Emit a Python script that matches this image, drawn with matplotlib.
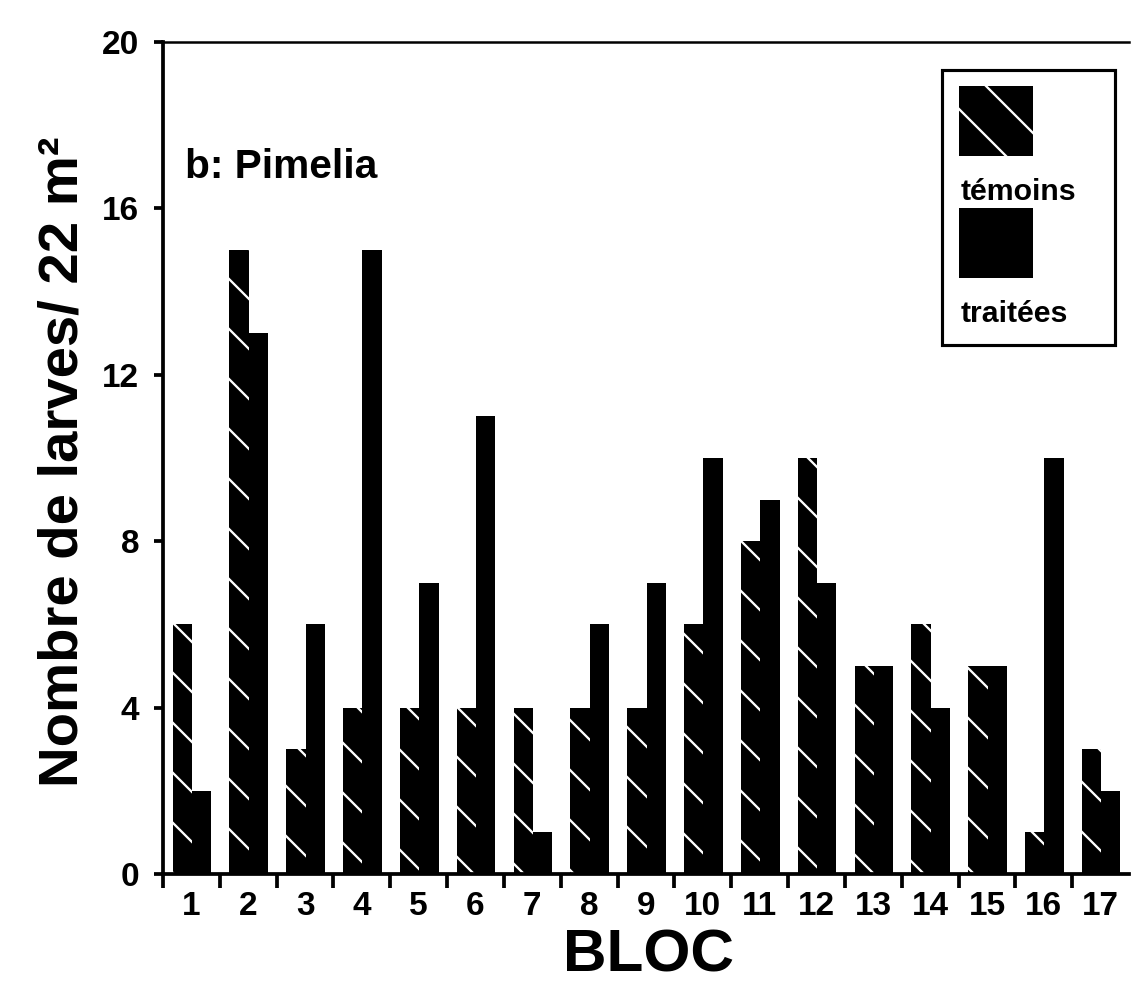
from __future__ import annotations

import numpy as np

import matplotlib

matplotlib.use("Agg")
import matplotlib.pyplot as plt
from matplotlib.patches import Rectangle

# values (larvae per 22 m2, per block)
BLOCS = list(range(1, 18))
TEMOINS = [6, 15, 3, 4, 4, 4, 4, 4, 4, 6, 8, 10, 5, 6, 5, 1, 3]
TRAITEES = [2, 13, 6, 15, 7, 11, 1, 6, 7, 10, 9, 7, 5, 4, 5, 10, 2]
SERIES = ["témoins", "traitées"]
Y_TICKS = [0, 4, 8, 12, 16, 20]
TITLE = "b: Pimelia"
X_LABEL = "BLOC"
Y_LABEL = "Nombre de larves/ 22 m²"

FONT = ["Liberation Sans", "DejaVu Sans"]

W, H = 1134, 989
DPI = 150


def _fx(x: float) -> float:
    return x / W


def _fy(y: float) -> float:
    return 1 - y / H


def _draw_legend(fig) -> None:
    """Legend in the style of the original: swatch on top, label below."""
    box = Rectangle((_fx(942), _fy(345)), _fx(1115) - _fx(942), _fy(70) - _fy(345),
                    transform=fig.transFigure, facecolor="white", edgecolor="black",
                    linewidth=1.5)
    fig.patches.append(box)
    hatches = ["\\", None]
    for i, (name, hatch) in enumerate(zip(SERIES, hatches)):
        top = 86 + i * 122
        sw = Rectangle((_fx(959), _fy(top + 70)), _fx(1033) - _fx(959), _fy(top) - _fy(top + 70),
                       transform=fig.transFigure, facecolor="black",
                       edgecolor="white" if hatch else "black", linewidth=0, hatch=hatch)
        fig.patches.append(sw)
        fig.text(_fx(961), _fy(top + 114), name, fontsize=14.5, fontweight="bold",
                 family=FONT, va="baseline", ha="left")


def main() -> None:
    plt.rcParams["hatch.linewidth"] = 1.1

    fig = plt.figure(figsize=(W / DPI, H / DPI), dpi=DPI)
    ax = fig.add_axes([_fx(163), _fy(874), _fx(1129) - _fx(163), _fy(42) - _fy(874)])

    x = np.array(BLOCS, dtype=float)
    ax.bar(x - 0.16, TEMOINS, width=0.34, facecolor="black", edgecolor="white",
           linewidth=0, hatch="\\", label=SERIES[0])
    ax.bar(x + 0.18, TRAITEES, width=0.34, color="black", linewidth=0, label=SERIES[1])

    ax.set_xlim(0.5, 17.5)
    ax.set_ylim(0, 20)

    for side in ("left", "bottom"):
        ax.spines[side].set_linewidth(1.8)
    ax.spines["top"].set_linewidth(1.2)
    ax.spines["right"].set_visible(False)

    ax.set_yticks(Y_TICKS)
    ax.set_xticks(BLOCS)
    ax.set_xticks(np.arange(0.5, 17.0, 1.0), minor=True)
    ax.tick_params(axis="y", direction="out", length=4.5, width=1.8, pad=7, labelsize=16)
    ax.tick_params(axis="x", which="major", length=0, pad=8, labelsize=16)
    ax.tick_params(axis="x", which="minor", direction="out", length=6.5, width=1.8)
    for lab in ax.get_xticklabels() + ax.get_yticklabels():
        lab.set_fontfamily(FONT)
        lab.set_fontweight("bold")

    ax.set_ylabel(Y_LABEL, fontsize=27, fontweight="bold", family=FONT)
    ax.yaxis.set_label_coords(-0.076, 0.495)
    ax.set_xlabel(X_LABEL, fontsize=29, fontweight="bold", family=FONT)
    ax.xaxis.set_label_coords(0.503, -0.066)

    fig.text(_fx(185), _fy(178), TITLE, fontsize=19.5, fontweight="bold",
             family=FONT, va="baseline", ha="left")

    _draw_legend(fig)

    fig.savefig("out.png", dpi=DPI)
    plt.close(fig)


if __name__ == "__main__":
    main()
